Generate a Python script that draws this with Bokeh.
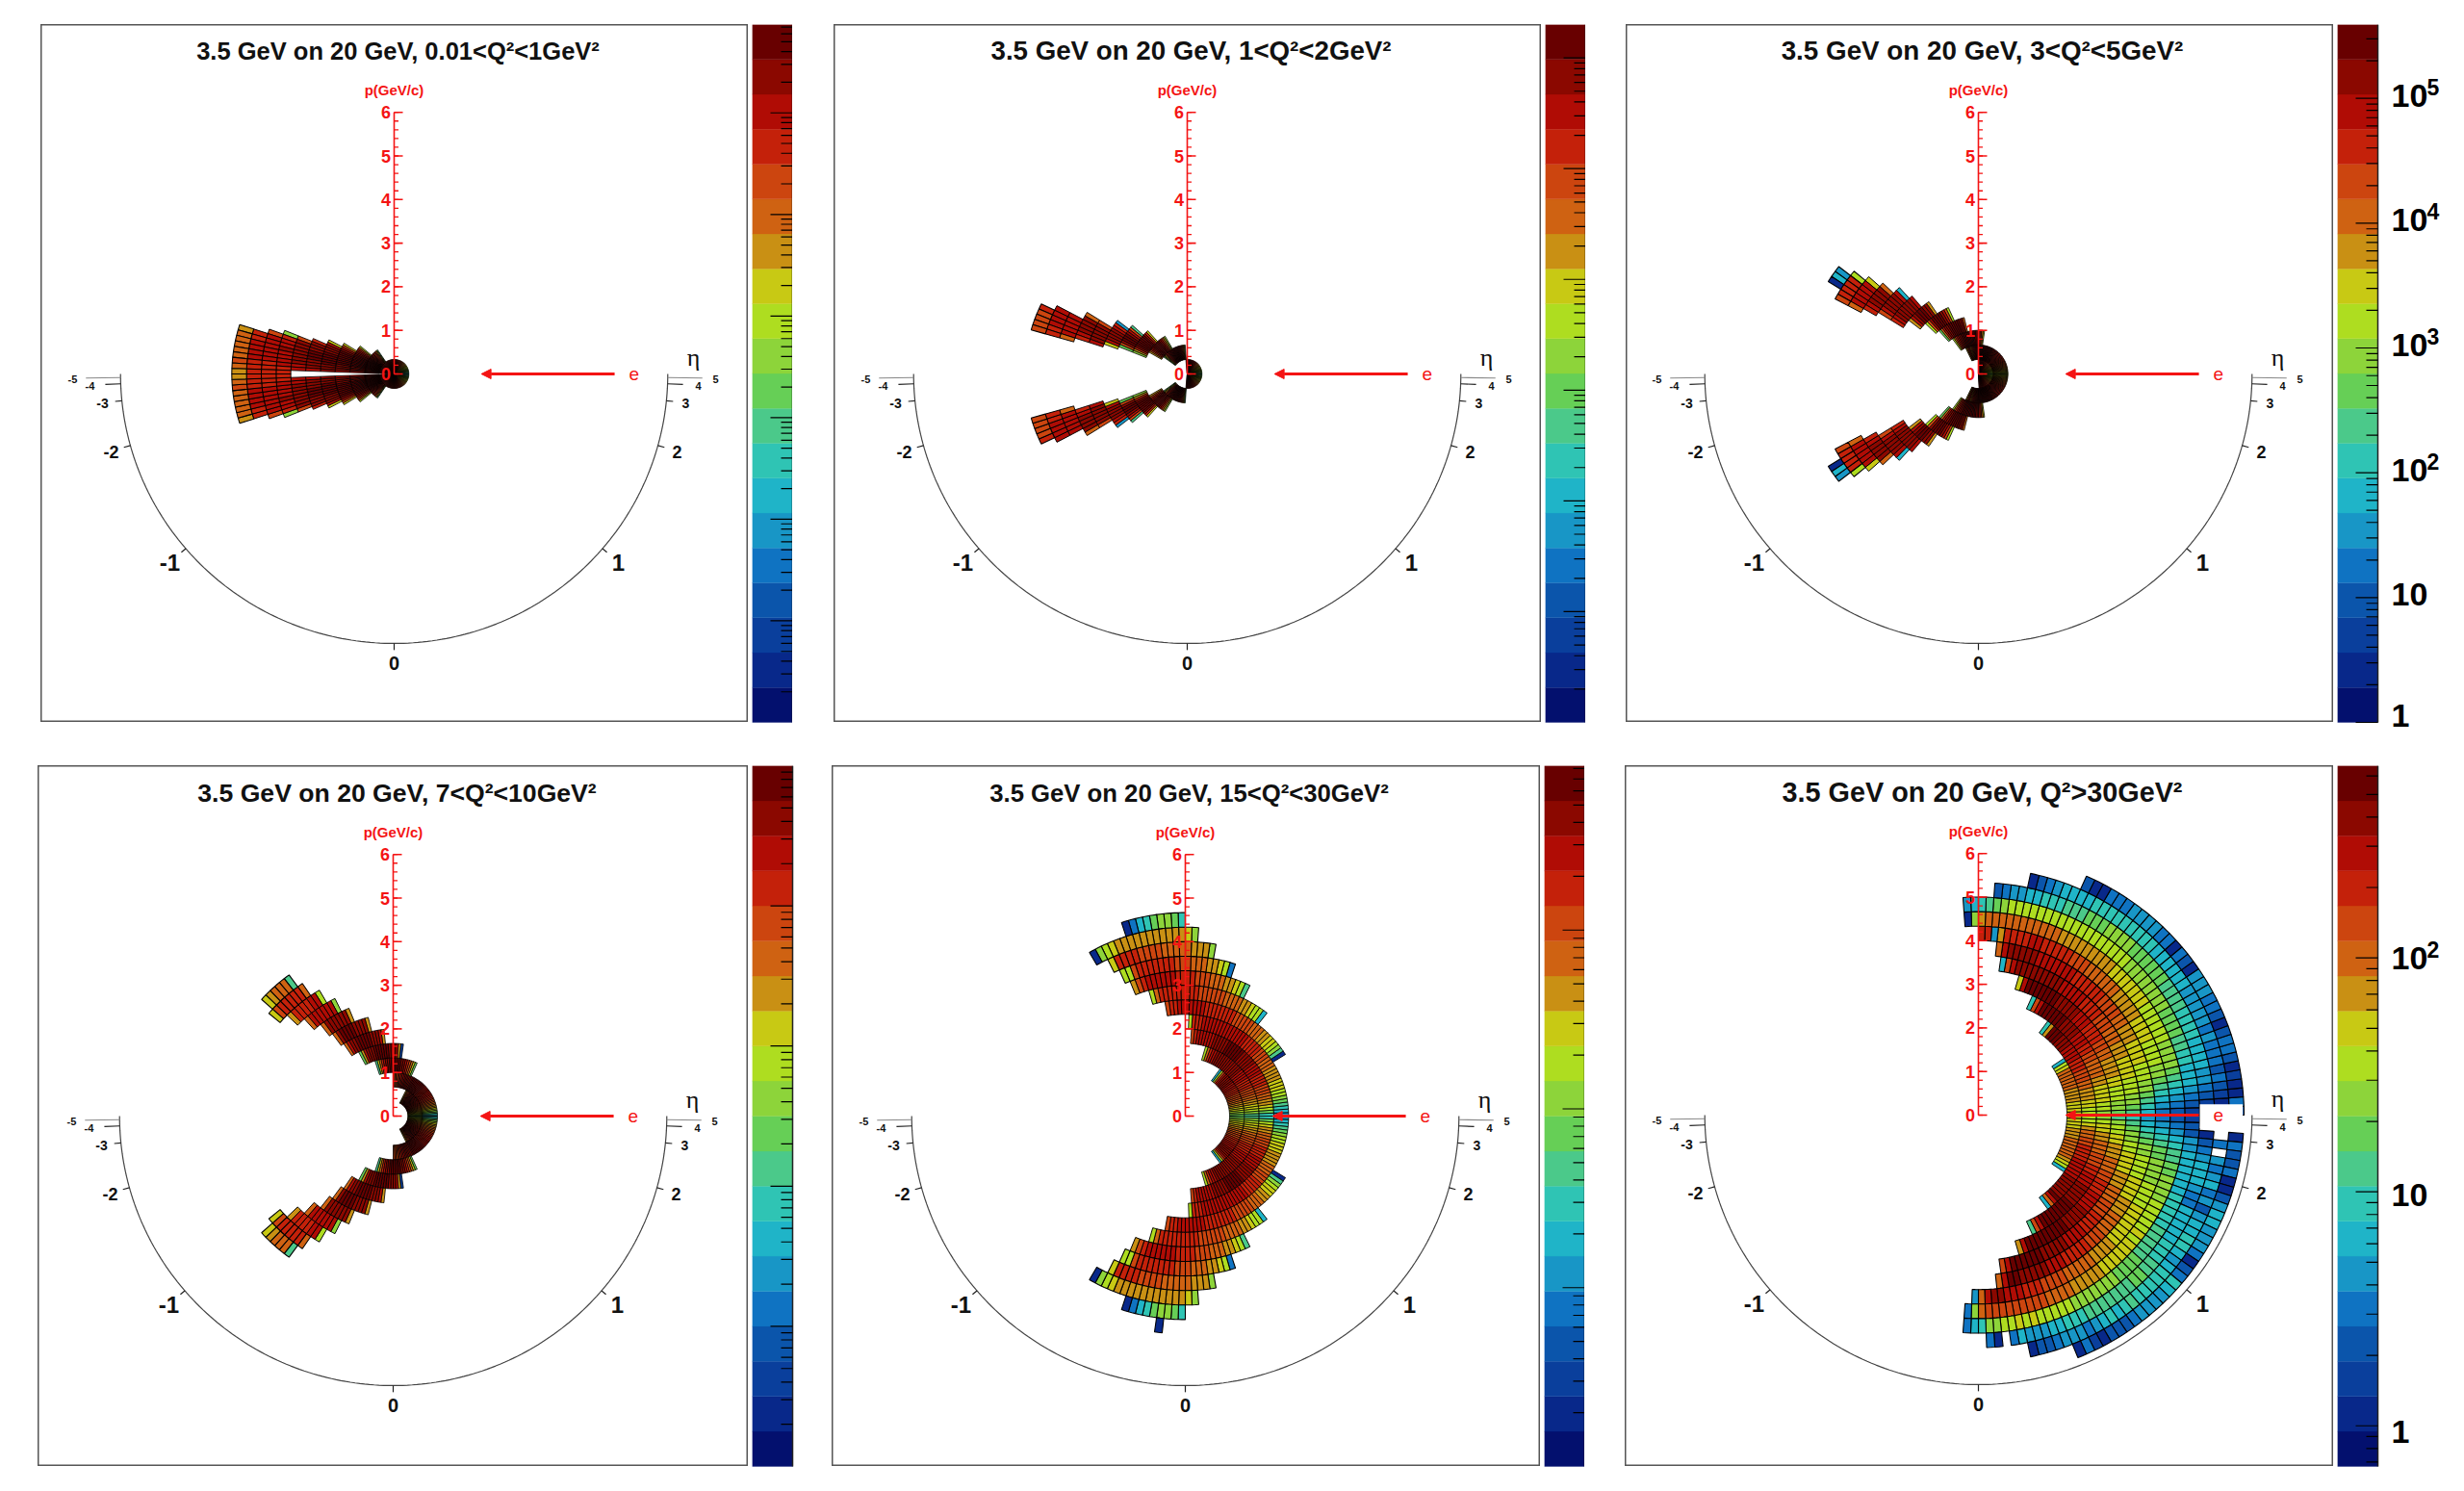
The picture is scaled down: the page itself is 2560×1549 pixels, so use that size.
import numpy as np
from bokeh.core.properties import value
from bokeh.embed import file_html
from bokeh.layouts import column, row
from bokeh.models import Arrow, ColumnDataSource, NormalHead, Range1d, Spacer
from bokeh.plotting import figure
from bokeh.resources import INLINE

titles = ["3.5 GeV on 20 GeV, 0.01<Q²<1GeV²", "3.5 GeV on 20 GeV, 1<Q²<2GeV²",
          "3.5 GeV on 20 GeV, 3<Q²<5GeV²", "3.5 GeV on 20 GeV, 7<Q²<10GeV²",
          "3.5 GeV on 20 GeV, 15<Q²<30GeV²", "3.5 GeV on 20 GeV, Q²>30GeV²"]
title_fonts = ["25.5px", "27.7px", "27.8px", "26.6px", "25.7px", "28.8px"]

# colour band of each cell, base 20 (0 = navy ... j = maroon), one char per 2 degree bin, "." = empty
a_rings = [0, 1, 2, 3, 4, 5, 6, 7, 8, 9, 10]
a_first = [0, 62, 70, 74, 76, 78, 79, 79, 80, 81, 81]
a_levels = ["77888" "99aaa" "bbbbc" "cccdd" "ddeee" "eefff" "fgggg" "ghhhh" "hiiii" "iiiii" "iiiii" "iiiii" "iiiii" "iii" "iiiiiiiiiiiiiiiiiiiii",
            "8cefgghhiiijjjjjjjjjjjjiiih",
            "beghiijjjjjjjjjiiih",
            "cfhijjjjjjjiiih",
            "chiiijjjjjiii",
            "giiijjjiiih",
            "fiiiiiiihh",
            "aghhihhhhgg",
            "fhhhhhhggg",
            "gghhhhggg",
            "deeeeefed"]

b_rings = [0, 1, 2, 3, 4, 5, 6, 7, 8, 9, 10]
b_first = [0, 47, 60, 66, 69, 71, 74, 74, 76, 76, 77]
b_levels = ["88999aaabbbbccccddddeeeefffggggghhhhiiiiiiiiiiii",
            "8cefghiijjjjjjjjjjiihgec9",
            "adfhijjjjjjihfd",
            "cgijjjjjjigda",
            "8fhijjjif9",
            "5ghiiiihc",
            "fiiiiih",
            "eiiiihg",
            "hhhhhe",
            "hhhhgg",
            "gffff"]

c_rings = [0, 1, 2, 3, 4, 5, 6, 7, 8, 9, 10, 11]
c_first = [0, 0, 41, 52, 57, 62, 65, 66, 68, 69, 70, 71]
c_levels = ["99aaabbbbccccddddeeeffffggggghhhhhiiiiiiiiii",
            "bbccdddeeefffggggghhhhhhiiiiiijjjjjjjjjjjjjjjiiiihhgfdhgfd",
            "ceghiijjjjjjjjjjiihgeb",
            "eiijjjjjjiihe9",
            "bfhijjjjifb",
            "diijjjihd",
            "hiiiiiihg",
            "6hiiiihf",
            "eiiiihg",
            "chhhhhe",
            "bggggf",
            "561"]

d_rings = [1, 2, 3, 4, 5, 6, 7, 8, 9, 10, 11]
d_first = [0, 0, 33, 41, 48, 52, 56, 58, 60, 62, 63]
d_levels = ["9abccddeeffggghhhiiijjjjjiiigffd",
            "679abcddeeffggghhhiiiijjjjjjjjjjiiiiihhggffff",
            "9cefghiijjjjjjiihgec8",
            "2dhiiijjjjjjiiihd9",
            "dhiiijjjjjiihe",
            "diiiijjjjie",
            "diiiiiie",
            "ahhhhhhe",
            "bhhggggd",
            "egggggfc",
            "8eeedc"]

e_rings = [3, 4, 5, 6, 7, 8, 9, 10, 11, 12, 13]
e_first = [0, 0, 0, 0, 16, 26, 32, 36, 40, 43, 45]
e_levels = ["9abccddeefffggghhhiiiiihfb6",
            "8abccddeefffgggghhhhiiiiiiiiiiiihhgeb",
            "79bcddeefffgggghhhhiiiiijjjjjjiiiiihhhhhhgf",
            "56789abbcccddddeeefffggggghhhhhhhhhhhhhhgggb",
            "18abccddeeefffffgggggggghhhhhhhggf",
            "6bbcddeeeeffffffgggggggggeb",
            "8bcddeeefffgggghhhhhhgfd",
            "4bcddeeefffgggggggfbb",
            "adddeeeeeffffggggc",
            "acdddddddddddcba1",
            "79aa97641"]
e_extra_rings = [14]
e_extra_first = [48]
e_extra_levels = ["1"]

f_rings = [6, 7, 8, 9, 10, 11, 12, 13, 14, 15, 16, 17]
f_first = [0] * 12
f_top = ["ccccddddeeeeeecb6",
         "bbccdddeefffggghhhhiiijjjd7",
         "abbccccddeeeeffgghhhiiiijjjjjjhf7",
         "9aabbbccddddeeffgggghhhiiiiijjjjjjjhc",
         "89aabbbccccdddeeefffgggghhhhhiiiiiiiiihf6",
         "6789aabbbccccdddeeffffgggggghhhhhhhiiiiihe",
         "456789aabbbbccccdddddeeeeeefffggggghhggggd5gg",
         "3456789aaaabbbbbbcccccccdddddddddeeeeeeeeeeeda1",
         "234566677889999aaaaaaaabbbbbbbbbbbbbbbbbba98765",
         "223455666677778888999999aaaa999888777665543",
         "112343444545555566666677777777766665431",
         "341121344313445551341445555444113"]
f_bottom = ["ccccdddeeeeeedcb6",
            "bbcdeeffgggghhhhhiiiiiijhe6",
            "abccddeeefffgghhhiiiiijjjjjjjjhf8",
            "8abbccdddeeeffggghhhhiiiiijjjjjjjjjhd",
            "789aabbccccdddeeefffgggghhhhiiiiijjjjjjhf",
            "56789aabbbbccccdddeeeefffggggghhhiiiiijjhe",
            "4567899aaaabbbbcccccccddddeeeeeffffggghhhiihe5",
            "345678899aaaabbbbbcbccccccdddddeeeefffffffffea4",
            "2335566666677777888889999aaaaaaabbbbbcbcbbaa764",
            "..134566654466666777889988888887776655564.14",
            "...4.5456453566776567777787676545554331",
            "..14334113566555413476555543331241"]

# colour bar ranges and labelled ticks
z_ranges = [(1, 7.4e6), (1, 2.0e6), (1, 3.9e5), (1, 1.0e5), (1, 8.3e3), (0.67, 663)]
z_major = [[10, 100, 1e3, 1e4, 1e5, 1e6], [10, 100, 1e3, 1e4, 1e5, 1e6],
           [1, 10, 100, 1e3, 1e4, 1e5], [10, 100, 1e3, 1e4], [10, 100, 1e3], [1, 10, 100]]
z_labels = [None, None, ["1", "10", "10", "10", "10", "10"], None, None, ["1", "10", "10"]]
z_exps = [None, None, ["", "", "2", "3", "4", "5"], None, None, ["", "", "2"]]
z_shift = [None, None, [-7, -3, -3, -3, -3, -3], None, None, [6, 3, 0]]

palette = ["#03106e", "#08288a", "#0a3f9c", "#0b55ab", "#0f73c2", "#1896c6", "#1fb4c8", "#2fc4b4", "#4bc98a", "#66cf56",
           "#8dd43a", "#aedd20", "#c8c914", "#c99014", "#cf6212", "#cc450f", "#c4210a", "#b00c05", "#8b0800", "#680000"]

p_ticks = [0, 1, 2, 3, 4, 5, 6]
p_minor = [i * 0.2 for i in range(31)]
eta_ticks = [0, 1, 2, 3, 4, 5]
eta_lens = [7, 6, 7, 7, 16, 36]
eta_fonts = ["20px", "24px", "18px", "14px", "11px", "11px"]
eta_dx = [0, 233, 294, 303, 316, 334]
eta_dy = [-300, -196, -81, -30, -12, -5]

XS = 46.0   # px per GeV across
YS = 45.3   # px per GeV up
R_ARC = 6.18


def add_cells(xs, ys, colors, widths, rings, firsts, levels, sign):
    for k, first, row_levels in zip(rings, firsts, levels):
        r0, r1 = k / 3.0, (k + 1) / 3.0
        for i, ch in enumerate(row_levels):
            if ch == ".":
                continue
            t = np.radians(np.linspace(first + i, first + i + 1, 3) * 2.0)
            xs.append(np.concatenate([r0 * np.cos(t), r1 * np.cos(t[::-1])]))
            ys.append(sign * np.concatenate([r0 * np.sin(t), r1 * np.sin(t[::-1])]))
            colors.append(palette[int(ch, 20)])
            widths.append(0.55 if k == 0 else min(1.1, max(0.8, 0.55 + 0.05 * k)))


def panel(title, title_font, left, right, top, bottom, cx, cy, cells, white_box=None):
    p = figure(width=right - left, height=bottom - top, output_backend="svg", toolbar_location=None,
               x_range=Range1d((left - cx) / XS, (right - cx) / XS),
               y_range=Range1d((cy - bottom) / YS, (cy - top) / YS),
               x_axis_location=None, y_axis_location=None, min_border=0,
               background_fill_color="white", outline_line_color="#555555", outline_line_width=2)
    p.grid.visible = False

    # eta scale
    t = np.radians(np.linspace(180, 360, 181))
    p.line(R_ARC * np.cos(t), R_ARC * np.sin(t), line_color="#444444", line_width=1.2)
    for j, eta in enumerate(eta_ticks):
        th = 2 * np.arctan(np.exp(-eta))
        for side in ([1, -1] if eta else [1]):
            c = side * np.cos(th)
            s = np.sin(th)
            r2 = R_ARC + eta_lens[j] / XS
            color = "#888888" if eta == 5 else "#222222"
            p.line([R_ARC * c, r2 * c], [-R_ARC * s, -r2 * s], line_color=color, line_width=1.2)
            label = str(eta) if side > 0 else str(-eta)
            p.text([side * eta_dx[j] / XS], [eta_dy[j] / YS], text=[label], text_align="center", text_baseline="middle",
                   text_font=value("Liberation Sans"), text_font_style="bold", text_font_size=eta_fonts[j], text_color="#111111")
    p.text([311 / XS], [17 / YS], text=["η"], text_align="center", text_baseline="middle",
           text_font=value("Liberation Serif"), text_font_size="26px", text_color="#111111")

    # the histogram
    xs, ys, colors, widths = [], [], [], []
    for args in cells:
        add_cells(xs, ys, colors, widths, *args)
    src = ColumnDataSource(dict(xs=xs, ys=ys, color=colors, lw=widths))
    p.patches("xs", "ys", source=src, fill_color="color", line_color="black", line_width="lw")

    if white_box:
        p.quad(left=white_box[0], right=white_box[1], bottom=white_box[2], top=white_box[3],
               fill_color="white", line_color=None)

    # momentum scale
    red = "#f41414"
    p.line([0, 0], [0, 6], line_color=red, line_width=1.6)
    tick_maj = 9 / XS
    tick_min = 4.5 / XS
    p.segment([0] * len(p_minor), p_minor, [tick_min] * len(p_minor), p_minor, line_color=red, line_width=1.3)
    p.segment([0] * len(p_ticks), p_ticks, [tick_maj] * len(p_ticks), p_ticks, line_color=red, line_width=1.6)
    p.text([-8.5 / XS] * len(p_ticks), p_ticks, text=[str(v) for v in p_ticks], text_align="center", text_baseline="middle",
           text_font=value("Liberation Sans"), text_font_style="bold", text_font_size="18px", text_color=red)
    p.text([0], [295 / YS], text=["p(GeV/c)"], text_align="center", text_baseline="middle",
           text_font=value("Liberation Sans"), text_font_style="bold", text_font_size="15px", text_color=red)

    # beam arrow
    p.add_layout(Arrow(end=NormalHead(size=10, fill_color=red, line_color=red), x_start=4.98, y_start=0, x_end=1.97, y_end=0,
                       line_color=red, line_width=3))
    p.text([5.42], [0], text=["e"], text_align="center", text_baseline="middle",
           text_font=value("Liberation Sans"), text_font_size="19px", text_color=red)

    p.text([4 / XS], [336 / YS], text=[title], text_align="center", text_baseline="middle",
           text_font=value("Liberation Sans"), text_font_style="bold", text_font_size=title_font, text_color="#111111")
    return p


def color_bar(zmin, zmax, major, labels, exps, shifts, width, bar_h, extra=12):
    decade = bar_h / np.log10(zmax / zmin)
    p = figure(width=width, height=bar_h + extra, output_backend="svg", toolbar_location=None,
               x_range=Range1d(0, width), y_range=Range1d(zmin * 10 ** (-extra / decade), zmax), y_axis_type="log",
               x_axis_location=None, y_axis_location=None, min_border=0, outline_line_color=None)
    p.grid.visible = False
    edges = zmin * (zmax / zmin) ** (np.arange(21) / 20.0)
    p.quad(left=0, right=42, bottom=edges[:-1], top=edges[1:], fill_color=palette, line_color=palette, line_width=0.3)
    p.line([42, 42], [zmin, zmax], line_color="#222222", line_width=1.5)
    minor = []
    for d in range(-1, 8):
        for m in range(2, 10):
            z = m * 10.0 ** d
            if zmin < z < zmax:
                minor.append(z)
    p.segment([30] * len(minor), minor, [42] * len(minor), minor, line_color="black", line_width=1.2)
    p.segment([19] * len(major), major, [42] * len(major), major, line_color="black", line_width=1.2)
    if labels:
        for z, label, exp, shift in zip(major, labels, exps, shifts):
            p.text([56], [z], text=[label], text_align="left", text_baseline="middle", y_offset=shift,
                   text_font=value("Liberation Sans"), text_font_style="bold", text_font_size="34px", text_color="black")
            if exp:
                p.text([93], [z], text=[exp], text_align="left", text_baseline="middle", y_offset=shift - 9,
                       text_font=value("Liberation Sans"), text_font_style="bold", text_font_size="23px", text_color="black")
    return p


cells_a = [(a_rings, a_first, a_levels, 1), (a_rings, a_first, a_levels, -1)]
cells_b = [(b_rings, b_first, b_levels, 1), (b_rings, b_first, b_levels, -1)]
cells_c = [(c_rings, c_first, c_levels, 1), (c_rings, c_first, c_levels, -1)]
cells_d = [(d_rings, d_first, d_levels, 1), (d_rings, d_first, d_levels, -1)]
cells_e = [(e_rings, e_first, e_levels, 1), (e_rings, e_first, e_levels, -1), (e_extra_rings, e_extra_first, e_extra_levels, -1)]
cells_f = [(f_rings, f_first, f_top, 1), (f_rings, f_first, f_bottom, -1)]

pa = panel(titles[0], title_fonts[0], 42, 777, 25, 750, 409, 388, cells_a)
pb = panel(titles[1], title_fonts[1], 866, 1601, 25, 750, 1233, 388, cells_b)
pc = panel(titles[2], title_fonts[2], 1689, 2424, 25, 750, 2055, 388, cells_c)
pd = panel(titles[3], title_fonts[3], 39, 777, 795, 1523, 408, 1159, cells_d)
pe = panel(titles[4], title_fonts[4], 864, 1600, 795, 1523, 1231, 1159, cells_e)
pf = panel(titles[5], title_fonts[5], 1688, 2424, 795, 1523, 2055, 1158, cells_f, white_box=(5.0, 5.97, -0.3, 0.25))

ba = color_bar(*z_ranges[0], z_major[0], z_labels[0], z_exps[0], z_shift[0], 42, 725)
bb = color_bar(*z_ranges[1], z_major[1], z_labels[1], z_exps[1], z_shift[1], 42, 725)
bc = color_bar(*z_ranges[2], z_major[2], z_labels[2], z_exps[2], z_shift[2], 112, 725)
bd = color_bar(*z_ranges[3], z_major[3], z_labels[3], z_exps[3], z_shift[3], 44, 728)
be = color_bar(*z_ranges[4], z_major[4], z_labels[4], z_exps[4], z_shift[4], 42, 728)
bf = color_bar(*z_ranges[5], z_major[5], z_labels[5], z_exps[5], z_shift[5], 112, 728)

top_row = row(Spacer(width=42), pa, Spacer(width=4), ba, Spacer(width=43), pb, Spacer(width=4), bb, Spacer(width=42),
              pc, Spacer(width=4), bc)
bottom_row = row(Spacer(width=39), pd, Spacer(width=4), bd, Spacer(width=39), pe, Spacer(width=4), be, Spacer(width=42),
                 pf, Spacer(width=4), bf)
page = column(Spacer(height=25), top_row, Spacer(height=33), bottom_row)

open("out.html", "w").write(file_html(page, INLINE))
